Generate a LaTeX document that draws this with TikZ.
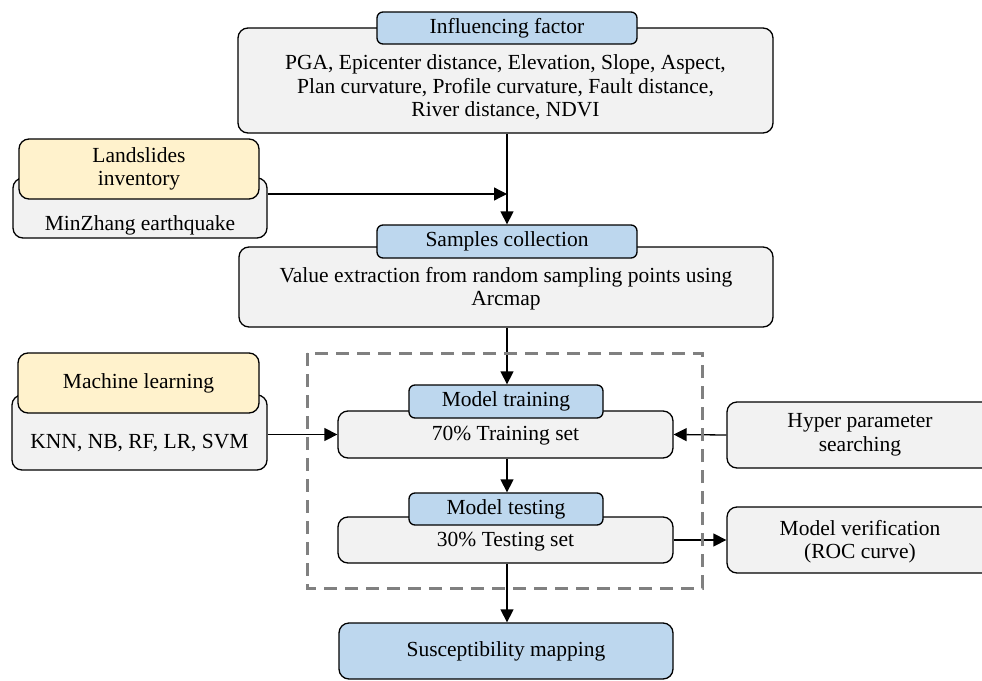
\documentclass[tikz,border=0pt]{standalone}
\usepackage{fontspec}
\setmainfont{Liberation Serif}
\usepackage{tikz}
\usetikzlibrary{arrows.meta,positioning}
\definecolor{hdrblue}{RGB}{189,215,238}
\definecolor{invyel}{RGB}{255,242,204}
\definecolor{boxgray}{RGB}{242,242,242}
\newcommand{\figfont}{\fontsize{21.5}{23.5}\selectfont}
\tikzset{
  bx/.style   = {rectangle, rounded corners=10pt, draw=black, line width=1.3pt,
                 fill=boxgray, inner sep=0pt},
  bxy/.style  = {rectangle, rounded corners=10pt, draw=black, line width=1.3pt,
                 fill=invyel, align=center, font=\figfont, inner sep=0pt},
  hdr/.style  = {rectangle, rounded corners=6pt, draw=black, line width=1.3pt,
                 fill=hdrblue, align=center, font=\figfont, inner sep=0pt},
  txt/.style  = {align=center, font=\figfont, inner sep=0pt},
  fl/.style   = {-{Triangle[length=13pt,width=13pt]}, line width=1.3pt, black},
  grp/.style  = {draw=black!50, dash pattern=on 13pt off 8pt, line width=3pt},
}

\begin{document}
\begin{tikzpicture}[x=1pt,y=-1pt]
  \useasboundingbox (0,0) rectangle (982,680);
  % influencing factors
  \node[bx, minimum width=535pt, minimum height=105pt] (inf) at (505.5,80.5) {};
  \node[txt] (infT) at (505.5,87.5) {PGA, Epicenter distance, Elevation, Slope, Aspect,\\ Plan curvature, Profile curvature, Fault distance,\\ River distance, NDVI};
  \node[hdr, minimum width=260pt, minimum height=32pt] (infH) at (507,28) {Influencing factor};
  % landslide inventory
  \node[bx, minimum width=254pt, minimum height=60pt] (lsG) at (140,208) {};
  \node[txt] (lsT) at (140,225) {MinZhang earthquake};
  \node[bxy, minimum width=240pt, minimum height=60pt] (lsY) at (139,169) {Landslides\\ inventory};
  % samples
  \node[bx, minimum width=534pt, minimum height=80pt] (smp) at (506,287) {};
  \node[txt] (smpT) at (506,288.5) {Value extraction from random sampling points using\\ Arcmap};
  \node[hdr, minimum width=260pt, minimum height=33pt] (smpH) at (507,241.5) {Samples collection};
  % machine learning
  \node[bx, minimum width=255pt, minimum height=75pt] (mlG) at (139.5,432.5) {};
  \node[txt] (mlT) at (139.5,443) {KNN, NB, RF, LR, SVM};
  \node[bxy, minimum width=241pt, minimum height=60pt] (mlY) at (138.5,383) {Machine learning};
  % training and testing
  \node[bx, minimum width=335pt, minimum height=47pt] (tr) at (505.5,434.5) {};
  \node[txt] (trT) at (505.5,436) {70\% Training set};
  \node[hdr, minimum width=194pt, minimum height=33pt] (trH) at (506,401.5) {Model training};
  \node[bx, minimum width=335pt, minimum height=46pt] (te) at (505.5,540) {};
  \node[txt] (teT) at (505.5,542) {30\% Testing set};
  \node[hdr, minimum width=194pt, minimum height=32pt] (teH) at (506,509) {Model testing};
  % right side
  \node[bx, minimum width=266pt, minimum height=66pt] (hyp) at (860,435) {};
  \node[txt] (hypT) at (860,435) {Hyper parameter\\ searching};
  \node[bx, minimum width=266pt, minimum height=66pt] (ver) at (860,540) {};
  \node[txt] (verT) at (860,541.5) {Model verification\\ (ROC curve)};
  % result
  \node[hdr, rounded corners=10pt, minimum width=334pt, minimum height=56pt] (map) at (506,651) {Susceptibility mapping};

  \coordinate (jn) at (507,194);
  \draw[fl] (inf.south -| infH) -- (smpH.north);
  \draw[fl] (lsG.east |- jn) -- (jn);
  \draw[fl] (smp.south -| smpH) -- (trH.north -| smpH);
  \draw[fl] (mlG.east |- tr) -- (tr.west);
  \draw[fl] (hyp.west) -- (tr.east);
  \draw[fl] (tr.south -| smpH) -- (teH.north -| smpH);
  \draw[fl] (te.east |- ver) -- (ver.west);
  \draw[fl] (te.south -| smpH) -- (map.north -| smpH);

  \draw[grp] (307,353) rectangle (702,588);
\end{tikzpicture}
\end{document}
